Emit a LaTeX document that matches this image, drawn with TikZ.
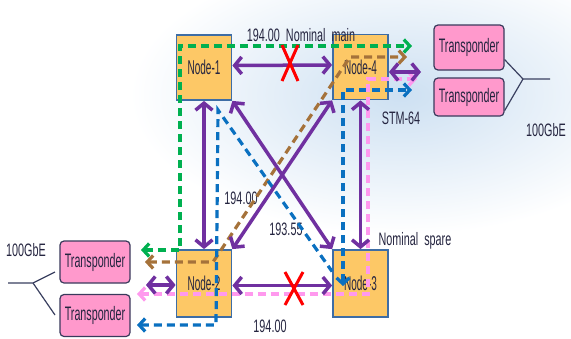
\documentclass[tikz,border=0pt]{standalone}
\usepackage{fontspec}
\setmainfont{Liberation Sans}
\newfontfamily\nodefont[FakeStretch=0.5]{Liberation Sans}
\newfontfamily\tpfont[FakeStretch=0.55]{Liberation Sans}
\newfontfamily\lblfont[FakeStretch=0.6]{Liberation Sans}
\usetikzlibrary{arrows.meta}
\definecolor{nodefill}{HTML}{FDC866}
\definecolor{nodeedge}{HTML}{3E6DA5}
\definecolor{tpfill}{HTML}{FF99CC}
\definecolor{tpedge}{HTML}{3A3A5C}
\definecolor{cpurple}{HTML}{7030A0}
\definecolor{cgreen}{HTML}{00B050}
\definecolor{cbrown}{HTML}{A5723A}
\definecolor{cblue}{HTML}{0A70C0}
\definecolor{cpink}{HTML}{FF99EE}
\definecolor{txt}{HTML}{252540}
\definecolor{sky}{HTML}{CDE0F2}
\definecolor{forkc}{HTML}{3A4060}
\begin{document}
\begin{tikzpicture}[x=1pt,y=-1pt,
  netnode/.style={draw=nodeedge, line width=1.8pt, fill=nodefill, minimum width=55pt, minimum height=65pt, inner sep=0pt, font={\nodefont\fontsize{20}{20}\selectfont}, text=txt},
  tpbox/.style={draw=tpedge, line width=1.2pt, fill=tpfill, rounded corners=4pt, minimum width=70pt, inner sep=0pt, font={\tpfont\fontsize{19.5}{19.5}\selectfont}, text=txt},
  lbl/.style={inner sep=0pt, font={\lblfont\fontsize{18}{18}\selectfont}, text=txt},
  pa/.style={draw=cpurple, line width=3.5pt, >={Straight Barb[length=7pt,width=17pt]}, <->},
  dl/.style={line width=3.2pt, dash pattern=on 8pt off 5pt, >={Straight Barb[length=6pt,width=13pt]}},
  fork/.style={draw=forkc, line width=1.2pt},
  xmark/.style={draw=red, line width=3pt}]
\useasboundingbox (0,0) rectangle (571,338);
\fill[white] (0,0) rectangle (571,338);
\begin{scope}
  \clip (0,0) rectangle (571,338);
  \shade[inner color=sky, outer color=white] (400,95) ellipse [x radius=270, y radius=140];
\end{scope}

% nodes
\node[netnode] (n1) at (204,67.5) {Node-1};
\node[netnode] (n4) at (360.5,67) {Node-4};
\node[netnode, minimum height=67pt] (n2) at (204,283.5) {Node-2};
\node[netnode, minimum height=67pt] (n3) at (360.5,283.5) {Node-3};
\node[tpbox, minimum height=45pt] (tr1) at (469,47.5) {Transponder};
\node[tpbox, minimum height=38pt] (tr2) at (469,97) {Transponder};
\node[tpbox, minimum height=42pt] (tl1) at (95,262) {Transponder};
\node[tpbox, minimum height=42pt] (tl2) at (95,315.5) {Transponder};

% labels
\node[lbl] (lmain) at (301,35) {194.00\ \ Nominal\ \ main};
\node[lbl] (lstm) at (401,118) {STM-64};
\node[lbl] (lgbeR) at (546,130) {100GbE};
\node[lbl] (lgbeL) at (26,250) {100GbE};
\node[lbl] (l14) at (241,198) {194.00};
\node[lbl] (l13) at (286,229) {193.55};
\node[lbl] (lspare) at (415,241) {Nominal\ \ spare};
\node[lbl] (l23) at (270,326) {194.00};

% forks
\coordinate (fR) at (523,79);
\coordinate (fRe) at (550,79);
\draw[fork] ([yshift=11pt]tr1.south east) -- (fR) -- (fRe);
\draw[fork] ([yshift=6pt]tr2.south east) -- (fR);
\coordinate (fL) at (33,283);
\coordinate (fLe) at (8,283);
\coordinate (fL1) at (55,272);
\coordinate (fL2) at (55,315);
\draw[fork] (fLe) -- (fL) -- (fL1);
\draw[fork] (fL) -- (fL2);

% dashed paths
\coordinate (gL) at (141,250);
\coordinate (gR) at (412,46);
\draw[dl, cgreen, <->] (gL) -- (180,250) -- (180,46) -- (gR);
\coordinate (bL) at (145,262);
\coordinate (bR) at (407,57);
\draw[dl, cbrown, <->] (bL) -- (213,262) -- (350,57) -- (bR);
\coordinate (aR) at (412,90);
\coordinate (aD) at (343,286);
\draw[dl, cblue, <->] (aD) -- (343,90) -- (aR);
\coordinate (bbL) at (137,325);
\draw[dl, cblue, <-] (bbL) -- (216,325) -- (218,110) -- ([yshift=12pt]n3.west);
\coordinate (pR) at (417,79);
\coordinate (pL) at (137,294);
\draw[dl, cpink, <->] (pL) -- (368,294) -- (368,79) -- (pR);

% purple links
\draw[pa] ([yshift=2pt]n1.east) -- ([yshift=2pt]n4.west);
\draw[pa] ([yshift=-2pt]n2.east) -- ([yshift=-2pt]n3.west);
\draw[pa] (n1.south) -- (n2.north);
\draw[pa] (n4.south) -- (n3.north);
\draw[pa] (n1.south east) -- (n3.north west);
\draw[pa] (n4.south west) -- (n2.north east);
\coordinate (pl) at (146,285);
\draw[pa] (pl) -- ([yshift=-1.5pt]n2.west);
\coordinate (pr) at (421,72);
\draw[pa] ([yshift=-5pt]n4.east) -- (pr);

% failure marks
\draw[xmark] (282,45) -- (298,81) (298,45) -- (282,81);
\draw[xmark] (285,272) -- (303,305) (303,272) -- (285,305);
\end{tikzpicture}
\end{document}
